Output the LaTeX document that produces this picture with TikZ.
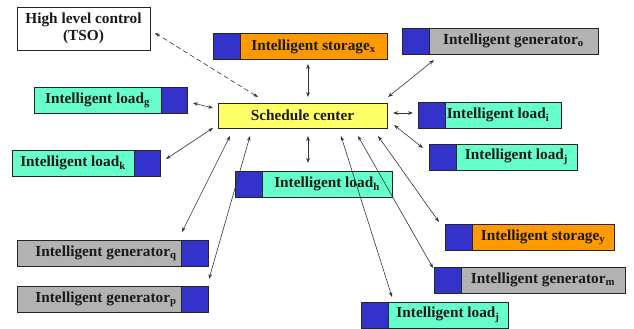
\documentclass[tikz,border=0pt]{standalone}
\usepackage{fontspec}
\setmainfont{Liberation Serif}
\usetikzlibrary{arrows.meta}
\definecolor{tealc}{HTML}{66FFCC}
\definecolor{bluec}{HTML}{3333CC}
\definecolor{orangec}{HTML}{FF9900}
\definecolor{grayc}{HTML}{B2B2B2}
\definecolor{yellowc}{HTML}{FFFF66}
\begin{document}
\begin{tikzpicture}[x=1pt,y=-1pt,
  base/.style={draw=black!85,line width=0.8pt,inner sep=0pt,minimum height=26pt,
    font=\fontsize{15.3}{17.5}\selectfont\bfseries,text=black!90},
  sq/.style={base,fill=bluec,minimum width=27pt},
  tl/.style={base,fill=tealc},
  og/.style={base,fill=orangec},
  gy/.style={base,fill=grayc},
  link/.style={{Stealth[length=5pt,width=3.6pt]}-{Stealth[length=5pt,width=3.6pt]},line width=0.6pt,draw=black!80}]
\useasboundingbox (0,0) rectangle (634,329);
% nodes
\node[base,fill=white,minimum width=133pt,minimum height=43pt,align=center] (tso) at (83.5,28.5) {High level control\\(TSO)};
\node[base,fill=yellowc,minimum width=169pt,minimum height=25pt] (sc) at (302.5,115.5) {Schedule center};
\node[sq] (sxb) at (226.5,46.5) {};
\node[og,minimum width=147pt] (sx) at (313.5,46.5) {Intelligent storage\textsubscript{x}};
\node[sq] (gob) at (415.5,41) {};
\node[gy,minimum width=169pt] (go) at (513.5,41) {Intelligent generator\textsubscript{o}};
\node[tl,minimum width=127pt] (lg) at (97.5,100) {Intelligent load\textsubscript{g}};
\node[sq,minimum width=26pt] (lgb) at (174,100) {};
\node[sq] (lib) at (431.5,115) {};
\node[tl,minimum width=116pt] (li) at (503,115) {Intelligent load\textsubscript{i}\hspace*{10pt}};
\node[sq] (ljb) at (442.5,157) {};
\node[tl,minimum width=121pt] (lj) at (516.5,157) {Intelligent load\textsubscript{j}};
\node[tl,minimum width=122pt] (lk) at (73,163) {Intelligent load\textsubscript{k}};
\node[sq,minimum width=26pt] (lkb) at (147,163) {};
\node[sq] (lhb) at (248.5,184) {};
\node[tl,minimum width=130pt] (lh) at (327,184) {Intelligent load\textsubscript{h}};
\node[gy,minimum width=164pt] (gq) at (99,253) {\hspace*{14pt}Intelligent generator\textsubscript{q}};
\node[sq] (gqb) at (194.5,253) {};
\node[gy,minimum width=164pt] (gp) at (99,299.5) {\hspace*{14pt}Intelligent generator\textsubscript{p}};
\node[sq] (gpb) at (194.5,299.5) {};
\node[sq] (syb) at (458.5,237) {};
\node[og,minimum width=142pt] (sy) at (543,237) {Intelligent storage\textsubscript{y}};
\node[sq] (gmb) at (447.5,280) {};
\node[gy,minimum width=164pt] (gm) at (543,280) {Intelligent generator\textsubscript{m}};
\node[sq] (ljlb) at (374.5,315) {};
\node[tl,minimum width=120pt] (ljl) at (448,315) {Intelligent load\textsubscript{j}};
% arrow end coordinates
\coordinate (s1) at (258,97);  \coordinate (t1) at (155,33);
\coordinate (s2) at (308,97);  \coordinate (t2) at (308,64);
\coordinate (s3) at (388,97);  \coordinate (t3) at (434,60);
\coordinate (s4) at (213,108); \coordinate (t4) at (193,103);
\coordinate (s5) at (393,113); \coordinate (t5) at (413,113);
\coordinate (s6) at (394,125); \coordinate (t6) at (423,148);
\coordinate (s7) at (213,128); \coordinate (t7) at (166,159);
\coordinate (s8) at (308,136); \coordinate (t8) at (308,163);
\coordinate (s9) at (230,136); \coordinate (t9) at (182,232);
\coordinate (s10) at (250,136); \coordinate (t10) at (209,279);
\coordinate (s11) at (378,136); \coordinate (t11) at (439,222);
\coordinate (s12) at (358,136); \coordinate (t12) at (433,268);
\coordinate (s13) at (341,136); \coordinate (t13) at (392,297);
% connectors
\draw[link,dash pattern=on 5pt off 3pt] (s1) -- (t1);
\foreach \i in {2,...,13} {\draw[link] (s\i) -- (t\i);}
\end{tikzpicture}
\end{document}
